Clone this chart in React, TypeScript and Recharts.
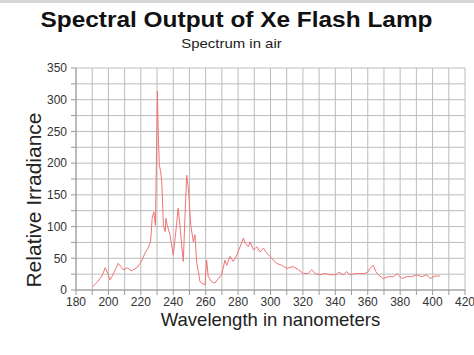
import { CartesianGrid, Line, LineChart, XAxis, YAxis } from 'recharts';

// wavelength (nm) and relative irradiance
const wavelengths = [
  190, 193, 196, 198, 199, 201, 203, 206, 208, 209, 212, 214, 216, 218, 219.5, 221, 222.5, 224.5,
  225.6, 226, 227, 228, 229, 229.7, 230.2, 230.8, 231.4, 232.2, 232.9, 233.5, 233.9, 235, 235.5,
  236.3, 238, 239, 240, 242, 243, 243.7, 245.2, 246.2, 247.2, 248.3, 249.3, 249.9, 250.8, 252.4,
  253.4, 254.4, 255.5, 256.5, 257.5, 259.6, 260.6, 261.6, 263.7, 265.7, 267.8, 269.9, 271.9, 273,
  275, 277, 279.2, 281.2, 283.3, 284.4, 286.4, 287.4, 289.5, 291.6, 293.6, 295.7, 297.7, 299.8,
  301.8, 303.8, 306.9, 310, 314, 317.2, 320.3, 323.3, 325.4, 327.5, 330.5, 333.6, 336.7, 340.8,
  342, 344.9, 347, 349, 353.2, 355, 358.2, 360.3, 361.3, 363.4, 365, 366.5, 369.6, 372.7, 375.8,
  378.2, 381, 384, 387.1, 390.2, 393.3, 396.4, 398.4, 401.5, 404.6,
];
const irradiance = [
  5, 12, 22, 35, 30, 16, 25, 42, 36, 32, 35, 30, 33, 36, 42, 48, 58, 66,
  74, 76, 113, 123, 102, 218, 313, 244, 197, 187, 171, 134, 102, 92, 113,
  102, 87, 71, 55, 102, 129, 113, 71, 45, 113, 181, 161, 139, 102, 76,
  87, 45, 29, 13, 11, 8, 47, 21, 13, 11, 18, 24, 47, 39,
  53, 45, 55, 68, 82, 74, 68, 76, 63, 68, 60, 66, 58, 53,
  47, 42, 39, 34, 37, 32, 26, 26, 32, 26, 24, 26, 24, 24,
  28, 24, 29, 24, 26, 26, 26, 29, 34, 39, 29, 24, 18, 21, 21,
  26, 18, 21, 21, 24, 21, 24, 18, 22, 22,
];

const xTicks = [180, 190, 200, 210, 220, 230, 240, 250, 260, 270, 280, 290, 300, 310, 320, 330, 340, 350, 360, 370, 380, 390, 400, 410, 420];
const yTicks = [0, 25, 50, 75, 100, 125, 150, 175, 200, 225, 250, 275, 300, 325, 350];

const data = wavelengths.map((w, i) => ({ wavelength: w, value: irradiance[i] }));

const FONT = '"Liberation Sans", Arial, sans-serif';

export default function App() {
  return (
    <div
      style={{
        position: 'absolute',
        left: 0,
        top: 0,
        width: 474,
        height: 355,
        background: '#fff',
        fontFamily: FONT,
      }}
    >
      <div style={{ position: 'absolute', left: 0, top: 0, width: 474, height: 3, background: '#d6d6d6' }} />
      <LineChart width={474} height={355} data={data} margin={{ top: 68, right: 9, left: 0, bottom: 0 }}>
        <CartesianGrid stroke="#bcbcbc" strokeWidth={1} />
        <XAxis
          dataKey="wavelength"
          type="number"
          domain={[180, 420]}
          ticks={xTicks}
          interval={0}
          height={65}
          tickSize={5}
          tickMargin={2}
          stroke="#9a9a9a"
          tick={{ fill: '#333', fontSize: 12, fontFamily: FONT }}
          tickFormatter={(v: number) => (v % 20 === 0 ? String(v) : '')}
        />
        <YAxis
          type="number"
          domain={[0, 350]}
          ticks={yTicks}
          interval={0}
          width={76}
          tickSize={5}
          tickMargin={4}
          stroke="#9a9a9a"
          tick={{ fill: '#333', fontSize: 12, fontFamily: FONT }}
          tickFormatter={(v: number) => (v % 50 === 0 ? String(v) : '')}
        />
        <Line
          type="linear"
          dataKey="value"
          stroke="#f07474"
          strokeWidth={1}
          dot={false}
          isAnimationActive={false}
        />
      </LineChart>
      <svg
        width={474}
        height={355}
        style={{ position: 'absolute', left: 0, top: 0, pointerEvents: 'none' }}
      >
        <text
          transform="translate(236.5,27) scale(1.11,1)"
          textAnchor="middle"
          fontSize={22}
          fontWeight="bold"
          fill="#111"
          fontFamily={FONT}
        >
          Spectral Output of Xe Flash Lamp
        </text>
        <text
          transform="translate(231.5,48) scale(1.15,1)"
          textAnchor="middle"
          fontSize={13}
          fill="#222"
          fontFamily={FONT}
        >
          Spectrum in air
        </text>
        <text x={270.5} y={326} textAnchor="middle" fontSize={18.5} fill="#222" fontFamily={FONT}>
          Wavelength in nanometers
        </text>
        <text
          transform="translate(41,200) rotate(-90)"
          textAnchor="middle"
          fontSize={21}
          fill="#222"
          fontFamily={FONT}
        >
          Relative Irradiance
        </text>
      </svg>
    </div>
  );
}
